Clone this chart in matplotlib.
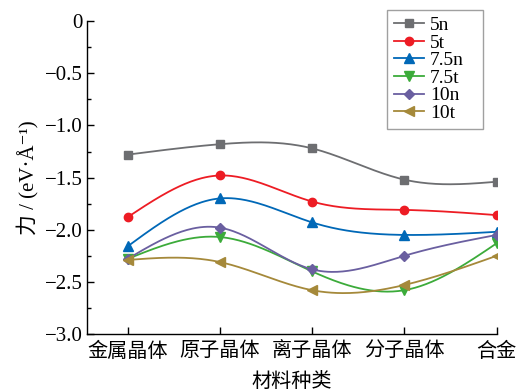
import numpy as np
import matplotlib
matplotlib.use('Agg')
import matplotlib.pyplot as plt
from matplotlib.ticker import MultipleLocator

plt.rcParams['font.family'] = ['Liberation Serif', 'Noto Sans CJK SC', 'DejaVu Serif']
plt.rcParams['axes.unicode_minus'] = True

# data
categories = ['金属晶体', '原子晶体', '离子晶体', '分子晶体', '合金']
series_names = ['5n', '5t', '7.5n', '7.5t', '10n', '10t']
v_5n = [-1.28, -1.18, -1.22, -1.52, -1.54]
v_5t = [-1.88, -1.48, -1.73, -1.81, -1.86]
v_75n = [-2.16, -1.70, -1.93, -2.05, -2.02]
v_75t = [-2.28, -2.07, -2.40, -2.58, -2.13]
v_10n = [-2.28, -1.98, -2.38, -2.25, -2.05]
v_10t = [-2.29, -2.31, -2.58, -2.53, -2.25]
values = [v_5n, v_5t, v_75n, v_75t, v_10n, v_10t]

colors = ['#6d6e71', '#ed1c24', '#0068b7', '#3cab3a', '#6a5fa0', '#a5893a']
markers = ['s', 'o', '^', 'v', 'D', '<']
msizes = [6, 6, 6.5, 6.5, 5.5, 6.5]


def natural_spline(x, y, n=200):
    # natural cubic spline, only used to draw the smooth connecting line
    x = np.asarray(x, float)
    y = np.asarray(y, float)
    k = len(x)
    h = np.diff(x)
    A = np.zeros((k, k))
    b = np.zeros(k)
    A[0, 0] = A[-1, -1] = 1
    for i in range(1, k - 1):
        A[i, i - 1] = h[i - 1]
        A[i, i] = 2 * (h[i - 1] + h[i])
        A[i, i + 1] = h[i]
        b[i] = 3 * ((y[i + 1] - y[i]) / h[i] - (y[i] - y[i - 1]) / h[i - 1])
    c = np.linalg.solve(A, b)
    xs = np.linspace(x[0], x[-1], n)
    idx = np.clip(np.searchsorted(x, xs) - 1, 0, k - 2)
    dx = xs - x[idx]
    bb = (y[idx + 1] - y[idx]) / h[idx] - h[idx] * (2 * c[idx] + c[idx + 1]) / 3
    dd = (c[idx + 1] - c[idx]) / (3 * h[idx])
    ys = y[idx] + bb * dx + c[idx] * dx ** 2 + dd * dx ** 3
    return xs, ys


fig = plt.figure(figsize=(5.23, 3.92), dpi=100)
ax = fig.add_axes([0.1663, 0.148, 0.7834, 0.798])

x = np.arange(len(categories))
for name, vals, col, mk, ms in zip(series_names, values, colors, markers, msizes):
    xs, ys = natural_spline(x, vals)
    ax.plot(xs, ys, color=col, linewidth=1.3)
    ax.plot(x, vals, linestyle='none', marker=mk, color=col, markersize=ms)
    ax.plot([], [], color=col, linewidth=1.3, marker=mk, markersize=ms, label=name)

ax.set_xlim(-0.44, 4)
ax.set_ylim(-3.0, 0)
ax.set_xticks(x)
ax.set_xticklabels(categories, fontsize=14.5)
ax.yaxis.set_major_locator(MultipleLocator(0.5))
ax.yaxis.set_minor_locator(MultipleLocator(0.25))
ax.set_yticks(np.arange(-3.0, 0.01, 0.5))
ax.set_yticklabels(['−3.0', '−2.5', '−2.0', '−1.5', '−1.0', '−0.5', '0'], fontsize=15)
ax.tick_params(axis='both', direction='in', length=5, width=1, pad=3)
ax.tick_params(axis='x', pad=6)
ax.tick_params(axis='y', which='minor', direction='in', length=3, width=1)
for s in ['top', 'right']:
    ax.spines[s].set_visible(False)
for s in ['left', 'bottom']:
    ax.spines[s].set_linewidth(1)

ax.set_xlabel('材料种类', fontsize=14.5, labelpad=8)
ax.set_ylabel('力 / (eV·Å⁻¹)', fontsize=15, labelpad=4)

leg = ax.legend(loc='upper left', bbox_to_anchor=(387 / 523, 1 - 10 / 392, 96 / 523, 0.001),
                bbox_transform=fig.transFigure, mode='expand', fontsize=14, frameon=True,
                fancybox=False, edgecolor='#888888', handlelength=1.55,
                labelspacing=0.0, borderpad=0.35, handletextpad=0.3,
                borderaxespad=0)
leg.get_frame().set_linewidth(1)

plt.savefig('out.png', dpi=100)
